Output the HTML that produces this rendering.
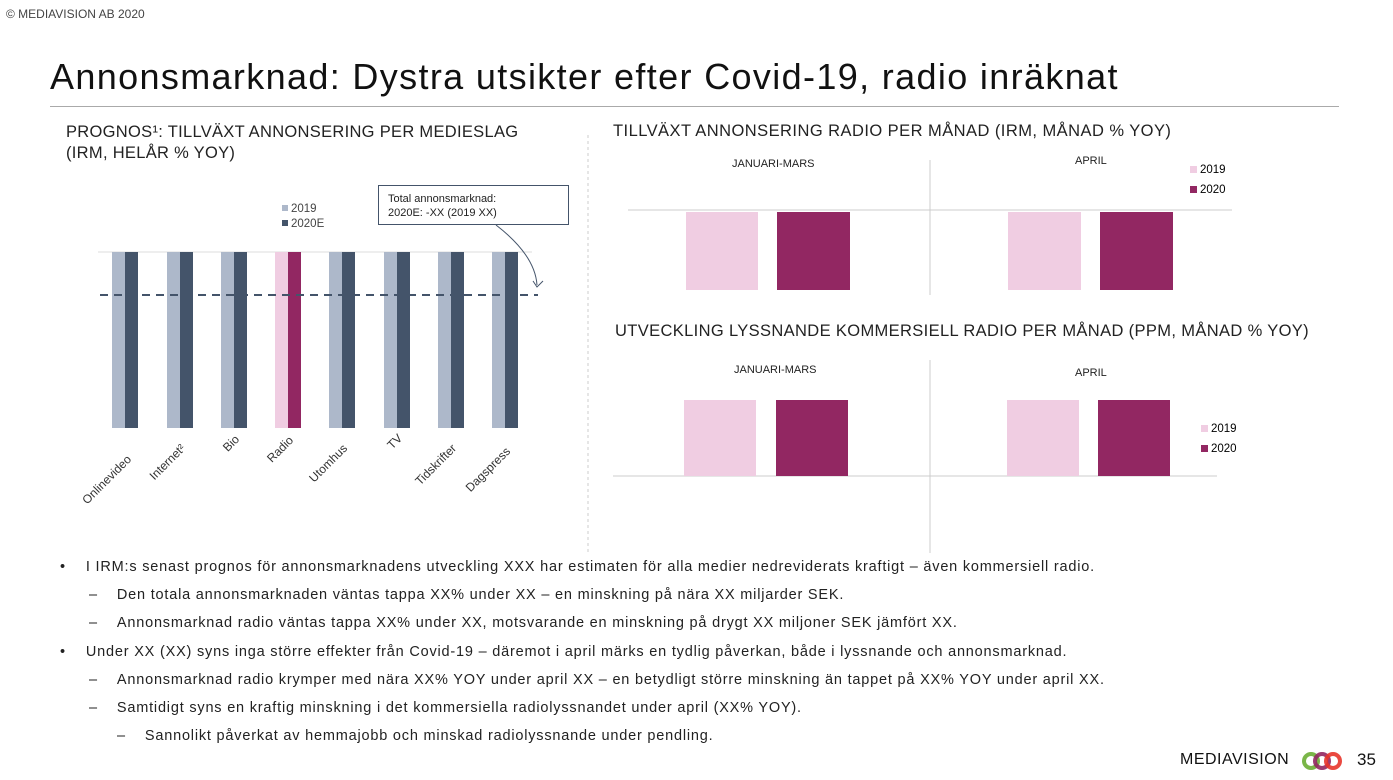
<!DOCTYPE html>
<html><head><meta charset="utf-8"><style>
body{margin:0;width:1393px;height:780px;background:#fff;font-family:"Liberation Sans",sans-serif;color:#222;overflow:hidden;position:relative}
.a{position:absolute;white-space:nowrap}
</style></head><body>
<div class="a" style="left:6px;top:7px;font-size:12px;color:#444">© MEDIAVISION AB 2020</div>
<div class="a" style="left:50px;top:56px;font-size:36px;color:#111;letter-spacing:1.35px">Annonsmarknad: Dystra utsikter efter Covid-19, radio inräknat</div>
<div class="a" style="left:50px;top:106px;width:1289px;height:1px;background:#aaa"></div>
<div class="a" style="left:66px;top:122px;font-size:16.5px;line-height:21px;letter-spacing:0.3px">PROGNOS¹: TILLVÄXT ANNONSERING PER MEDIESLAG<br>(IRM, HELÅR % YOY)</div>
<div class="a" style="left:613px;top:122px;font-size:16.5px;letter-spacing:0.45px">TILLVÄXT ANNONSERING RADIO PER MÅNAD (IRM, MÅNAD % YOY)</div>
<div class="a" style="left:615px;top:322px;font-size:16.5px;letter-spacing:0.36px">UTVECKLING LYSSNANDE KOMMERSIELL RADIO PER MÅNAD  (PPM, MÅNAD % YOY)</div>
<svg class="a" style="left:0;top:0" width="1393" height="780" font-family="Liberation Sans, sans-serif">
<line x1="588" y1="135" x2="588" y2="552" stroke="#ccc" stroke-dasharray="3,3"/>
<line x1="98" y1="252" x2="532" y2="252" stroke="#ddd"/>
<g>
<rect x="112" y="252" width="13" height="176" fill="#adb8ca"/><rect x="125" y="252" width="13" height="176" fill="#44546a"/>
<rect x="167" y="252" width="13" height="176" fill="#adb8ca"/><rect x="180" y="252" width="13" height="176" fill="#44546a"/>
<rect x="221" y="252" width="13" height="176" fill="#adb8ca"/><rect x="234" y="252" width="13" height="176" fill="#44546a"/>
<rect x="275" y="252" width="13" height="176" fill="#f0cde2"/><rect x="288" y="252" width="13" height="176" fill="#922762"/>
<rect x="329" y="252" width="13" height="176" fill="#adb8ca"/><rect x="342" y="252" width="13" height="176" fill="#44546a"/>
<rect x="384" y="252" width="13" height="176" fill="#adb8ca"/><rect x="397" y="252" width="13" height="176" fill="#44546a"/>
<rect x="438" y="252" width="13" height="176" fill="#adb8ca"/><rect x="451" y="252" width="13" height="176" fill="#44546a"/>
<rect x="492" y="252" width="13" height="176" fill="#adb8ca"/><rect x="505" y="252" width="13" height="176" fill="#44546a"/>
</g>
<line x1="100" y1="295" x2="538" y2="295" stroke="#44546a" stroke-width="2" stroke-dasharray="8,6"/>
<rect x="282" y="205" width="6" height="6" fill="#adb8ca"/><text x="291" y="212" font-size="11.5" fill="#444">2019</text>
<rect x="282" y="220" width="6" height="6" fill="#44546a"/><text x="291" y="227" font-size="11.5" fill="#444">2020E</text>
<rect x="378.5" y="185.5" width="190" height="39" fill="#fff" stroke="#44546a"/>
<text x="388" y="202" font-size="11" fill="#222">Total annonsmarknad:</text>
<text x="388" y="216" font-size="11" fill="#222">2020E: -XX (2019 XX)</text>
<path d="M496 225 Q535 255 537 285" fill="none" stroke="#44546a"/>
<path d="M533 281 L537 287 L543 281" fill="none" stroke="#44546a"/>
<g font-size="12" fill="#333" text-anchor="end">
<text transform="translate(132,460) rotate(-45)">Onlinevideo</text>
<text transform="translate(186,449) rotate(-45)">Internet²</text>
<text transform="translate(240,440) rotate(-45)">Bio</text>
<text transform="translate(294,441) rotate(-45)">Radio</text>
<text transform="translate(348,449) rotate(-45)">Utomhus</text>
<text transform="translate(403,439) rotate(-45)">TV</text>
<text transform="translate(457,449) rotate(-45)">Tidskrifter</text>
<text transform="translate(511,452) rotate(-45)">Dagspress</text>
</g>
<line x1="930" y1="160" x2="930" y2="295" stroke="#ccc"/>
<line x1="628" y1="210" x2="1232" y2="210" stroke="#ccc"/>
<text x="732" y="167" font-size="11" fill="#222">JANUARI-MARS</text>
<text x="1075" y="164" font-size="11" fill="#222">APRIL</text>
<rect x="686" y="212" width="72" height="78" fill="#f0cde2"/><rect x="777" y="212" width="73" height="78" fill="#922762"/>
<rect x="1008" y="212" width="73" height="78" fill="#f0cde2"/><rect x="1100" y="212" width="73" height="78" fill="#922762"/>
<rect x="1190" y="166" width="7" height="7" fill="#f0cde2"/><text x="1200" y="173" font-size="11.5">2019</text>
<rect x="1190" y="186" width="7" height="7" fill="#922762"/><text x="1200" y="193" font-size="11.5">2020</text>
<line x1="930" y1="360" x2="930" y2="553" stroke="#ccc"/>
<line x1="613" y1="476" x2="1217" y2="476" stroke="#ccc"/>
<text x="734" y="373" font-size="11" fill="#222">JANUARI-MARS</text>
<text x="1075" y="376" font-size="11" fill="#222">APRIL</text>
<rect x="684" y="400" width="72" height="76" fill="#f0cde2"/><rect x="776" y="400" width="72" height="76" fill="#922762"/>
<rect x="1007" y="400" width="72" height="76" fill="#f0cde2"/><rect x="1098" y="400" width="72" height="76" fill="#922762"/>
<rect x="1201" y="425" width="7" height="7" fill="#f0cde2"/><text x="1211" y="432" font-size="11.5">2019</text>
<rect x="1201" y="445" width="7" height="7" fill="#922762"/><text x="1211" y="452" font-size="11.5">2020</text>
<circle cx="1311" cy="761" r="7" fill="none" stroke="#7ab648" stroke-width="4"/>
<circle cx="1322" cy="761" r="7" fill="none" stroke="#922762" stroke-width="4" opacity="0.9"/>
<circle cx="1333" cy="761" r="7" fill="none" stroke="#e8352b" stroke-width="4" opacity="0.9"/>
</svg>
<div class="a" style="left:1180px;top:751px;font-size:16px;letter-spacing:0.5px;color:#111">MEDIAVISION</div>
<div class="a" style="left:1357px;top:750px;font-size:17px;color:#111">35</div>
<div class="a" style="left:60px;top:553px;font-size:14.5px;line-height:28.2px;color:#222;letter-spacing:0.8px">
<div>•<span style="padding-left:20px">I IRM:s senast prognos för annonsmarknadens utveckling XXX har estimaten för alla medier nedreviderats kraftigt – även kommersiell radio.</span></div>
<div style="padding-left:29px">–<span style="padding-left:19px">Den totala annonsmarknaden väntas tappa XX% under XX – en minskning på nära XX miljarder SEK.</span></div>
<div style="padding-left:29px">–<span style="padding-left:19px">Annonsmarknad radio väntas tappa XX% under XX, motsvarande en minskning på drygt XX miljoner SEK jämfört XX.</span></div>
<div>•<span style="padding-left:20px">Under XX (XX) syns inga större effekter från Covid-19 – däremot i april märks en tydlig påverkan, både i lyssnande och annonsmarknad.</span></div>
<div style="padding-left:29px">–<span style="padding-left:19px">Annonsmarknad radio krymper med nära XX% YOY under april XX – en betydligt större minskning än tappet på XX% YOY under april XX.</span></div>
<div style="padding-left:29px">–<span style="padding-left:19px">Samtidigt syns en kraftig minskning i det kommersiella radiolyssnandet under april (XX% YOY).</span></div>
<div style="padding-left:57px">–<span style="padding-left:19px">Sannolikt påverkat av hemmajobb och minskad radiolyssnande under pendling.</span></div>
</div>
</body></html>
